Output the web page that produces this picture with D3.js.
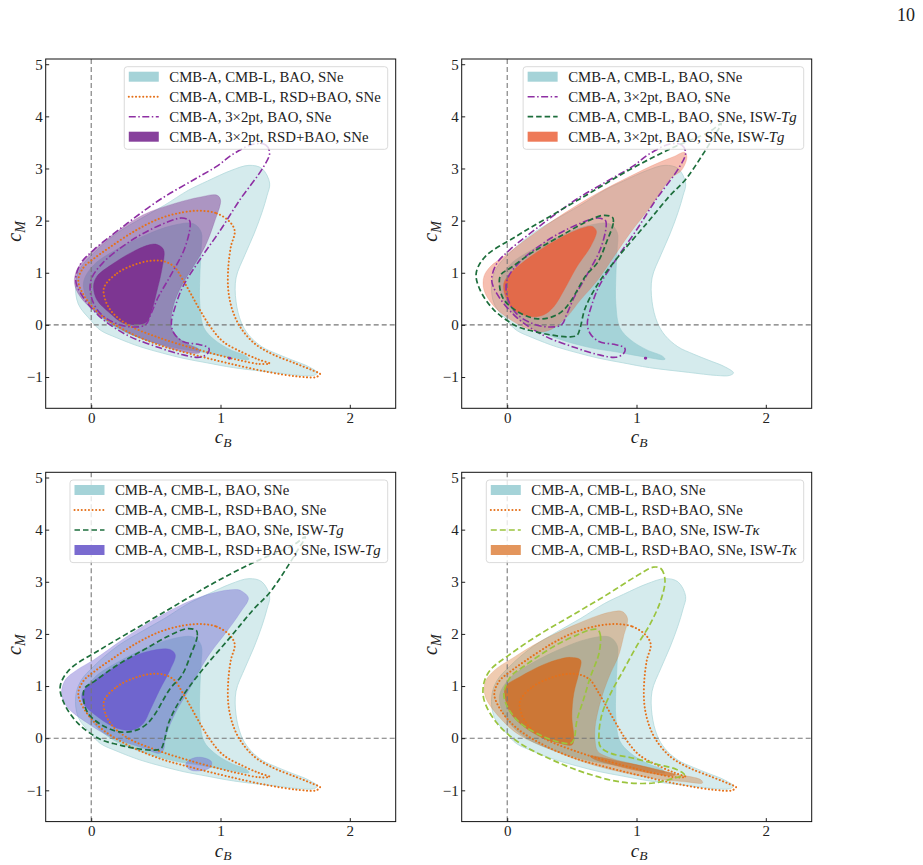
<!DOCTYPE html>
<html>
<head>
<meta charset="utf-8">
<script src="https://cdn.jsdelivr.net/npm/d3@7"></script>
<style>
  body { margin: 0; background: #fff; }
  svg { display: block; }
  text { font-family: "Liberation Serif", "DejaVu Serif", serif; fill: #222; }
</style>
</head>
<body>
<div id="chart"></div>
<script>
// ---- data (c_B, c_M) ----
var xTicks = [0, 1, 2];
var yTicks = [-1, 0, 1, 2, 3, 4, 5];

// CMB-A, CMB-L, BAO, SNe (teal, shared)
var tealOuter = [[-0.12,0.8],[-0.1,0.4],[0.0,0.08],[0.07,-0.1],[0.2,-0.25],[0.38,-0.42],[0.55,-0.54],[0.71,-0.64],[0.9,-0.73],[1.1,-0.82],[1.4,-0.91],[1.62,-0.97],[1.72,-0.97],[1.75,-0.92],[1.68,-0.8],[1.56,-0.68],[1.44,-0.56],[1.32,-0.42],[1.22,-0.2],[1.16,0.05],[1.12,0.45],[1.12,0.9],[1.19,1.35],[1.26,1.75],[1.32,2.15],[1.36,2.48],[1.38,2.72],[1.32,3.0],[1.22,3.06],[1.08,2.96],[0.9,2.76],[0.75,2.58],[0.57,2.3],[0.4,2.06],[0.2,1.76],[0.02,1.38],[-0.08,1.1]];
var tealInner = [[-0.06,0.8],[0.0,0.35],[0.15,0.0],[0.4,-0.27],[0.65,-0.44],[0.85,-0.52],[1.05,-0.61],[1.22,-0.66],[1.2,-0.6],[1.08,-0.48],[0.95,-0.28],[0.87,-0.05],[0.84,0.4],[0.84,0.93],[0.85,1.44],[0.85,1.78],[0.79,1.94],[0.62,1.9],[0.42,1.72],[0.2,1.45],[0.02,1.15]];

// CMB-A, CMB-L, RSD+BAO, SNe (orange dotted)
var rsdOuter = [[0.84,2.19],[0.97,2.14],[1.07,1.98],[1.11,1.8],[1.08,1.5],[1.06,1.1],[1.06,0.67],[1.09,0.3],[1.15,-0.03],[1.26,-0.35],[1.4,-0.56],[1.58,-0.74],[1.72,-0.88],[1.77,-0.94],[1.74,-1.0],[1.6,-0.99],[1.36,-0.9],[1.05,-0.73],[0.79,-0.57],[0.53,-0.39],[0.28,-0.13],[0.07,0.2],[-0.05,0.54],[-0.1,0.85],[-0.06,1.1],[0.02,1.27],[0.15,1.5],[0.35,1.82],[0.53,2.04],[0.71,2.16]];
var rsdInner = [[0.1,0.72],[0.2,0.99],[0.33,1.15],[0.46,1.23],[0.56,1.22],[0.64,1.12],[0.71,0.86],[0.77,0.6],[0.84,0.29],[0.92,-0.03],[1.02,-0.32],[1.18,-0.54],[1.3,-0.67],[1.38,-0.74],[1.3,-0.75],[1.15,-0.68],[1.0,-0.59],[0.79,-0.45],[0.53,-0.25],[0.3,-0.02],[0.17,0.22],[0.11,0.47]];

// CMB-A, 3x2pt, BAO, SNe (purple dash-dot)
var x2ptOuter = [[1.26,3.47],[1.35,3.45],[1.38,3.3],[1.33,3.02],[1.15,2.4],[1.0,1.82],[0.84,1.25],[0.71,0.74],[0.65,0.35],[0.62,0.03],[0.64,-0.16],[0.71,-0.32],[0.84,-0.38],[0.91,-0.45],[0.9,-0.55],[0.84,-0.62],[0.72,-0.58],[0.53,-0.44],[0.28,-0.2],[0.07,0.15],[-0.08,0.6],[-0.12,0.86],[-0.08,1.18],[0.02,1.44],[0.28,1.95],[0.53,2.4],[0.79,2.78],[0.97,3.04],[1.1,3.28]];
var x2ptInner = [[0.7,2.05],[0.76,2.0],[0.765,1.88],[0.72,1.45],[0.61,0.93],[0.52,0.54],[0.46,0.2],[0.42,0.0],[0.33,-0.04],[0.2,0.02],[0.07,0.22],[0.0,0.54],[0.0,0.87],[0.09,1.19],[0.28,1.57],[0.46,1.83],[0.63,2.01]];
var x2ptSpot = [[1.063,-0.64],[1.07,-0.628],[1.077,-0.64],[1.07,-0.652]];

// CMB-A, CMB-L, BAO, SNe, ISW-Tg (dark green dashed)
var iswTgOuter = [[1.655,3.86],[1.6,3.62],[1.5,3.22],[1.38,2.79],[1.255,2.47],[1.08,1.95],[0.84,1.25],[0.69,0.74],[0.6,0.3],[0.565,-0.05],[0.54,-0.2],[0.48,-0.23],[0.33,-0.19],[0.2,-0.12],[0.07,-0.02],[-0.1,0.28],[-0.21,0.67],[-0.24,0.99],[-0.17,1.31],[0.07,1.7],[0.33,2.08],[0.64,2.53],[0.95,2.98],[1.255,3.37],[1.56,3.7]];
var iswTgInner = [[0.815,2.06],[0.82,1.95],[0.77,1.6],[0.7,1.2],[0.61,0.95],[0.49,0.45],[0.42,0.25],[0.33,0.14],[0.22,0.12],[0.07,0.27],[-0.03,0.5],[-0.06,0.77],[-0.05,0.96],[0.03,1.1],[0.2,1.4],[0.41,1.7],[0.59,1.95],[0.74,2.1]];

// CMB-A, CMB-L, BAO, SNe, ISW-Tkappa (yellow-green dashed)
var iswTkOuter = [[1.13,3.28],[1.19,3.25],[1.22,3.04],[1.19,2.66],[1.11,2.21],[1.0,1.76],[0.9,1.31],[0.8,0.86],[0.735,0.48],[0.71,0.1],[0.72,-0.16],[0.8,-0.29],[0.95,-0.37],[1.16,-0.5],[1.31,-0.6],[1.37,-0.7],[1.3,-0.76],[1.13,-0.86],[0.88,-0.84],[0.62,-0.68],[0.36,-0.43],[0.1,-0.1],[-0.08,0.29],[-0.18,0.74],[-0.18,1.06],[-0.13,1.31],[0.0,1.57],[0.23,1.96],[0.49,2.34],[0.75,2.72],[1.0,3.11]];
var iswTkInner = [[0.7,2.08],[0.72,1.98],[0.71,1.63],[0.644,1.18],[0.59,0.74],[0.54,0.35],[0.515,-0.03],[0.49,-0.1],[0.41,-0.08],[0.28,0.03],[0.1,0.29],[0.0,0.61],[-0.026,0.86],[0.026,1.18],[0.13,1.38],[0.36,1.76],[0.54,1.98],[0.644,2.08]];

// CMB-A, 3x2pt, RSD+BAO, SNe (purple fill, panel 1)
var p1Outer = [[0.97,2.49],[1.0,2.4],[0.95,1.95],[0.88,1.5],[0.79,1.12],[0.71,0.8],[0.65,0.48],[0.62,0.16],[0.62,-0.05],[0.66,-0.22],[0.75,-0.37],[0.83,-0.46],[0.84,-0.53],[0.77,-0.54],[0.53,-0.38],[0.28,-0.15],[0.07,0.17],[-0.085,0.54],[-0.13,0.8],[-0.11,1.06],[-0.03,1.31],[0.15,1.7],[0.4,2.11],[0.66,2.34],[0.84,2.45]];
var p1Inner = [[0.51,1.54],[0.56,1.44],[0.546,1.06],[0.51,0.67],[0.47,0.29],[0.43,0.06],[0.35,0.0],[0.25,0.03],[0.147,0.22],[0.044,0.48],[0.018,0.74],[0.044,0.93],[0.173,1.18],[0.327,1.41],[0.456,1.54]];

// CMB-A, 3x2pt, BAO, SNe, ISW-Tg (red-orange fill, panel 2)
var p2Outer = [[1.37,3.31],[1.39,3.23],[1.35,2.97],[1.26,2.8],[1.11,2.27],[0.95,1.76],[0.825,1.31],[0.7,0.86],[0.567,0.48],[0.464,0.16],[0.36,-0.06],[0.28,-0.13],[0.155,-0.07],[0.026,0.1],[-0.1,0.35],[-0.18,0.67],[-0.18,0.93],[-0.13,1.12],[-0.026,1.31],[0.18,1.7],[0.44,2.14],[0.7,2.53],[0.95,2.85],[1.16,3.1],[1.29,3.23]];
var p2Inner = [[0.67,1.87],[0.69,1.79],[0.644,1.5],[0.54,1.12],[0.44,0.67],[0.36,0.35],[0.28,0.19],[0.18,0.16],[0.05,0.29],[-0.013,0.54],[-0.026,0.8],[0.026,0.99],[0.18,1.31],[0.36,1.6],[0.54,1.82],[0.644,1.89]];

// CMB-A, CMB-L, RSD+BAO, SNe, ISW-Tg (slate fill, panel 3)
var p3Outer = [[1.165,2.82],[1.216,2.69],[1.15,2.4],[1.05,2.05],[0.92,1.63],[0.84,1.31],[0.74,0.86],[0.65,0.48],[0.585,0.1],[0.57,-0.05],[0.56,-0.22],[0.53,-0.29],[0.4,-0.19],[0.147,0.03],[-0.03,0.29],[-0.19,0.61],[-0.23,0.86],[-0.2,1.12],[-0.11,1.31],[0.018,1.5],[0.276,1.95],[0.53,2.34],[0.79,2.66],[1.0,2.82],[1.13,2.85]];
var p3Island = [[0.73,-0.5],[0.78,-0.39],[0.86,-0.37],[0.93,-0.45],[0.92,-0.56],[0.83,-0.63],[0.76,-0.6]];
var p3Inner = [[0.61,1.7],[0.65,1.6],[0.61,1.31],[0.53,0.93],[0.456,0.54],[0.405,0.29],[0.327,0.16],[0.2,0.19],[0.044,0.42],[-0.06,0.67],[-0.07,0.86],[0.0,1.06],[0.147,1.31],[0.327,1.57],[0.51,1.7]];

// CMB-A, CMB-L, RSD+BAO, SNe, ISW-Tkappa (orange fill, panel 4)
var p4Outer = [[0.89,2.43],[0.93,2.3],[0.9,1.95],[0.86,1.57],[0.8,1.25],[0.75,0.93],[0.71,0.6],[0.68,0.22],[0.68,-0.05],[0.7,-0.25],[0.8,-0.38],[1.0,-0.51],[1.26,-0.67],[1.5,-0.8],[1.51,-0.86],[1.39,-0.84],[1.13,-0.77],[0.88,-0.65],[0.62,-0.48],[0.36,-0.24],[0.1,0.05],[-0.06,0.4],[-0.17,0.8],[-0.17,1.08],[-0.1,1.3],[0.05,1.55],[0.25,1.85],[0.5,2.15],[0.7,2.35],[0.82,2.43]];
var p4Inner = [[0.49,1.55],[0.567,1.5],[0.554,1.25],[0.515,0.86],[0.5,0.42],[0.515,-0.03],[0.5,-0.13],[0.41,-0.1],[0.28,0.0],[0.13,0.22],[0.026,0.48],[-0.013,0.74],[-0.013,0.99],[0.1,1.18],[0.28,1.41],[0.41,1.52]];
var p4Tail = [[0.64,-0.34],[0.88,-0.45],[1.13,-0.58],[1.3,-0.7],[1.25,-0.72],[1.0,-0.62],[0.8,-0.5],[0.67,-0.4]];

// legend labels
var lblBase = "CMB-A, CMB-L, BAO, SNe";
var lblRsd = "CMB-A, CMB-L, RSD+BAO, SNe";
var lbl3x2 = "CMB-A, 3\u00d72pt, BAO, SNe";
var lbl3x2Rsd = "CMB-A, 3\u00d72pt, RSD+BAO, SNe";

// ---- styles ----
var sty = {
  teal: { out: "#d5ebed", inn: "#a5d3d8", edge: "#b3d9dc" },
  rsd: { color: "#e5711a", dash: "0.1 3.5", width: 2, cap: "round" },
  x2pt: { color: "#8e2fa3", dash: "7 2.5 1.5 2.5", width: 1.6, cap: "butt" },
  tg: { color: "#1d6e3c", dash: "5.5 3", width: 1.7, cap: "butt" },
  tk: { color: "#9bc43e", dash: "6 3", width: 1.7, cap: "butt" },
  purple: "#7b2d8e",
  red: "#e8603c",
  slate: "#6a5acd",
  orange: "#d2691e"
};

var panelW = 350, panelH = 349.3;
var legendFont = "14.8px";

var panels = [
  { left: 45.7, top: 59,
    fills: [{ d: p1Outer, c: sty.purple, o: 0.45 }, { d: p1Inner, c: sty.purple, o: 0.9 }],
    lines: [{ d: rsdOuter, s: sty.rsd }, { d: rsdInner, s: sty.rsd },
            { d: x2ptOuter, s: sty.x2pt }, { d: x2ptInner, s: sty.x2pt }, { d: x2ptSpot, s: sty.x2pt }],
    legend: [{ fill: sty.teal.inn, t: [lblBase] }, { line: sty.rsd, t: [lblRsd] },
             { line: sty.x2pt, t: [lbl3x2] }, { fill: "#87409c", t: [lbl3x2Rsd] }] },
  { left: 461.7, top: 59,
    fills: [{ d: p2Outer, c: sty.red, o: 0.4 }, { d: p2Inner, c: sty.red, o: 0.85 }],
    lines: [{ d: x2ptOuter, s: sty.x2pt }, { d: x2ptInner, s: sty.x2pt }, { d: x2ptSpot, s: sty.x2pt },
            { d: iswTgOuter, s: sty.tg }, { d: iswTgInner, s: sty.tg }],
    legend: [{ fill: sty.teal.inn, t: [lblBase] }, { line: sty.x2pt, t: [lbl3x2] },
             { line: sty.tg, t: [lblBase + ", ISW-", "Tg"] }, { fill: "#ee7a58", t: ["CMB-A, 3\u00d72pt, BAO, SNe, ISW-", "Tg"] }] },
  { left: 45.7, top: 472.3,
    fills: [{ d: p3Outer, c: sty.slate, o: 0.4 }, { d: p3Island, c: sty.slate, o: 0.4 }, { d: p3Inner, c: sty.slate, o: 0.85 }],
    lines: [{ d: rsdOuter, s: sty.rsd }, { d: rsdInner, s: sty.rsd },
            { d: iswTgOuter, s: sty.tg }, { d: iswTgInner, s: sty.tg }],
    legend: [{ fill: sty.teal.inn, t: [lblBase] }, { line: sty.rsd, t: [lblRsd] },
             { line: sty.tg, t: [lblBase + ", ISW-", "Tg"] }, { fill: "#7a6bd0", t: [lblRsd + ", ISW-", "Tg"] }] },
  { left: 461.7, top: 472.3,
    fills: [{ d: p4Outer, c: sty.orange, o: 0.35 }, { d: p4Tail, c: sty.orange, o: 0.6 }, { d: p4Inner, c: sty.orange, o: 0.8 }],
    lines: [{ d: rsdOuter, s: sty.rsd }, { d: rsdInner, s: sty.rsd },
            { d: iswTkOuter, s: sty.tk }, { d: iswTkInner, s: sty.tk }],
    legend: [{ fill: sty.teal.inn, t: [lblBase] }, { line: sty.rsd, t: [lblRsd] },
             { line: sty.tk, t: [lblBase + ", ISW-", "T\u03ba"] }, { fill: "#e3955c", t: [lblRsd + ", ISW-", "T\u03ba"] }] }
];

var svg = d3.select("#chart").append("svg").attr("width", 923).attr("height", 865);

// page number
svg.append("text").attr("x", 915).attr("y", 21).attr("text-anchor", "end")
  .style("font-size", "18px").text("10");

panels.forEach(function (p, i) {
  var g = svg.append("g").attr("transform", "translate(" + p.left + "," + p.top + ")");
  var x = d3.scaleLinear().domain([-0.352, 2.355]).range([0, panelW]);
  var y = d3.scaleLinear().domain([-1.6, 5.1]).range([panelH, 0]);

  var clipId = "clip" + i;
  g.append("clipPath").attr("id", clipId).append("rect").attr("width", panelW).attr("height", panelH);
  var plot = g.append("g").attr("clip-path", "url(#" + clipId + ")");

  var shape = d3.line().x(function (d) { return x(d[0]); }).y(function (d) { return y(d[1]); })
    .curve(d3.curveCatmullRomClosed.alpha(0.5));

  // base teal contours
  plot.append("path").attr("d", shape(tealOuter)).attr("fill", sty.teal.out)
    .attr("stroke", sty.teal.edge).attr("stroke-width", 0.8);
  plot.append("path").attr("d", shape(tealInner)).attr("fill", sty.teal.inn)
    .attr("stroke", "#98cdd2").attr("stroke-width", 0.6);

  // panel fill
  p.fills.forEach(function (f) {
    plot.append("path").attr("d", shape(f.d)).attr("fill", f.c).attr("fill-opacity", f.o)
      .attr("stroke", f.c).attr("stroke-opacity", f.o * 0.6).attr("stroke-width", 0.8);
  });

  // reference lines at zero
  plot.append("line").attr("x1", x(0)).attr("x2", x(0)).attr("y1", 0).attr("y2", panelH)
    .attr("stroke", "#777").attr("stroke-width", 1.1).attr("stroke-dasharray", "5 3");
  plot.append("line").attr("x1", 0).attr("x2", panelW).attr("y1", y(0)).attr("y2", y(0))
    .attr("stroke", "#777").attr("stroke-width", 1.1).attr("stroke-dasharray", "5 3");

  // line contours
  p.lines.forEach(function (l) {
    plot.append("path").attr("d", shape(l.d)).attr("fill", "none")
      .attr("stroke", l.s.color).attr("stroke-width", l.s.width)
      .attr("stroke-dasharray", l.s.dash).attr("stroke-linecap", l.s.cap);
  });

  // axes
  var xAxis = g.append("g").attr("transform", "translate(0," + panelH + ")")
    .call(d3.axisBottom(x).tickValues(xTicks).tickSize(-3.5).tickPadding(4).tickFormat(d3.format("d")));
  var yAxis = g.append("g")
    .call(d3.axisLeft(y).tickValues(yTicks).tickSize(-3.5).tickPadding(3).tickFormat(d3.format("d")));
  [xAxis, yAxis].forEach(function (a) {
    a.select(".domain").remove();
    a.selectAll("line").attr("stroke", "#222");
    a.selectAll("text").style("font-size", "15px").attr("fill", "#222")
      .style("font-family", '"Liberation Serif", serif');
  });
  g.append("rect").attr("width", panelW).attr("height", panelH)
    .attr("fill", "none").attr("stroke", "#111").attr("stroke-width", 1);

  // axis labels
  var xl = g.append("text").attr("x", panelW / 2 - 6).attr("y", panelH + 35)
    .style("font-size", "19px").style("font-style", "italic");
  xl.append("tspan").text("c");
  xl.append("tspan").attr("dy", 3.5).style("font-size", "13.5px").text("B");

  var yl = g.append("text").attr("transform", "translate(-25," + (panelH / 2 + 8) + ") rotate(-90)")
    .style("font-size", "20px").style("font-style", "italic");
  yl.append("tspan").text("c");
  yl.append("tspan").attr("dy", 4).style("font-size", "14px").text("M");

  // legend
  var lg = g.append("g");
  var box = lg.append("rect").attr("rx", 3).attr("fill", "#fff").attr("fill-opacity", 0.8)
    .attr("stroke", "#d0d0d0").attr("stroke-width", 0.8);
  var maxW = 0;
  var items = lg.selectAll("g.item").data(p.legend).enter().append("g").attr("class", "item");
  items.each(function (it, k) {
    var row = d3.select(this).attr("transform", "translate(0," + (10 + k * 20) + ")");
    if (it.fill) {
      row.append("rect").attr("x", 4.5).attr("y", -5).attr("width", 30).attr("height", 10).attr("fill", it.fill);
    } else {
      row.append("line").attr("x1", 4.5).attr("x2", 34.5).attr("y1", 0).attr("y2", 0)
        .attr("stroke", it.line.color).attr("stroke-width", it.line.width)
        .attr("stroke-dasharray", it.line.dash).attr("stroke-linecap", it.line.cap);
    }
    var t = row.append("text").attr("x", 45).attr("y", 5).style("font-size", legendFont);
    t.append("tspan").text(it.t[0]);
    if (it.t[1]) t.append("tspan").style("font-style", "italic").text(it.t[1]);
    maxW = Math.max(maxW, t.node().getComputedTextLength());
  });
  var bw = 45 + maxW + 7, bh = 82.6;
  box.attr("width", bw).attr("height", bh);
  lg.attr("transform", "translate(" + (panelW - 8 - bw) + ",7.7)");
});
</script>
</body>
</html>
